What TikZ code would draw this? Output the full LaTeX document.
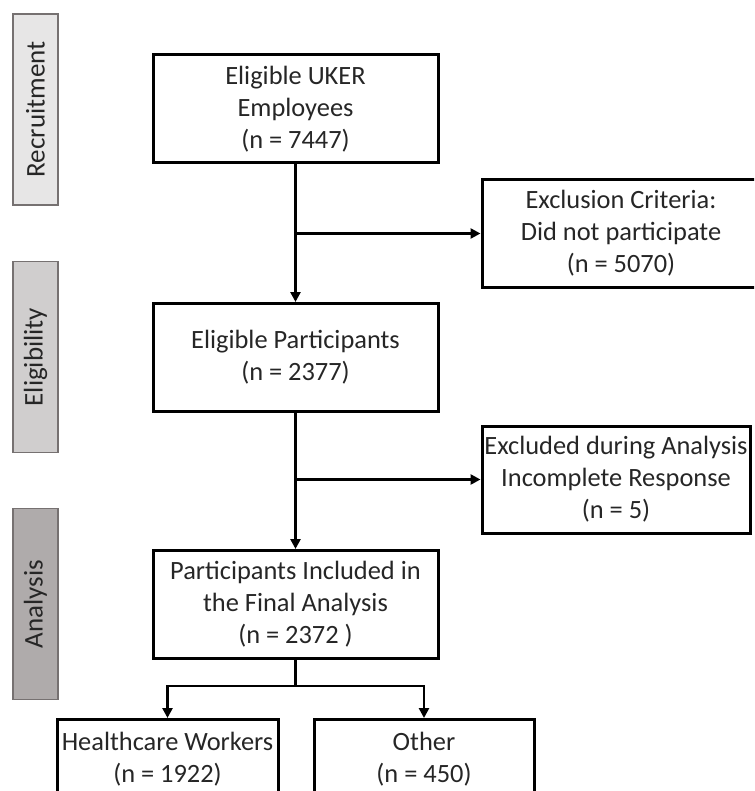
\documentclass[tikz,border=0pt]{standalone}
\usepackage{fontspec}
\setmainfont{Carlito}
\usetikzlibrary{arrows.meta,positioning,calc}
\definecolor{txtgray}{RGB}{38,38,38}
\definecolor{stagea}{RGB}{231,230,230}
\definecolor{stageb}{RGB}{208,206,206}
\definecolor{stagec}{RGB}{175,171,171}
\definecolor{stageline}{RGB}{118,113,113}
\tikzset{
  flowbox/.style={draw=black, line width=1.5pt, align=center, text=txtgray,
                  font=\fontsize{13.2}{16}\selectfont, inner xsep=0pt, inner ysep=2pt,
                  minimum width=142.5pt, minimum height=54pt},
  exclbox/.style={flowbox, minimum height=53.5pt},
  groupbox/.style={flowbox, minimum width=110.5pt, minimum height=40pt},
  stagebox/.style={draw=stageline, line width=0.8pt, rotate=90, text=txtgray,
                   font=\fontsize{13.5}{16}\selectfont,
                   minimum width=95.5pt, minimum height=22.5pt, inner sep=0pt},
  flowarr/.style={-{Triangle[length=5pt,width=5pt]}, black, line width=1.3pt},
  flowline/.style={black, line width=1.3pt},
}

\begin{document}
\begin{tikzpicture}[x=0.5pt, y=-0.5pt]
  \path[use as bounding box, clip] (0,0) rectangle (754,791);

  \node[stagebox, fill=stagea] (recr) at (35.5,109.5) {Recruitment};
  \node[stagebox, fill=stageb] (elig) at (35.5,357) {Eligibility};
  \node[stagebox, fill=stagec] (anal) at (35.5,604) {Analysis};

  \node[flowbox] (employees) at (295.5,109) {Eligible UKER\\Employees\\(n = 7447)};
  \node[exclbox, minimum width=139pt] (notpart) at (621,233.5)
    {Exclusion Criteria:\\Did not participate\\(n = 5070)};
  \node[flowbox] (eligible) at (295.5,357.5) {Eligible Participants\\(n = 2377)};
  \node[exclbox, minimum width=134pt] (incompl) at (616,479.5)
    {Excluded during Analysis\\Incomplete Response\\(n = 5)};
  \node[flowbox] (final) at (295.5,604.5)
    {Participants Included in\\the Final Analysis\\(n = 2372 )};
  \node[groupbox, anchor=north] (hcw) at (167.5,718) {Healthcare Workers\\(n = 1922)};
  \node[groupbox, anchor=north, minimum width=110pt] (other) at (424,718) {Other\\(n = 450)};

  \coordinate (splitA) at (employees.south |- notpart.west);
  \coordinate (splitB) at (eligible.south |- incompl.west);
  \coordinate (splitC) at ($(final.south)+(0,26)$);

  \draw[flowarr] (employees) -- (eligible);
  \draw[flowarr] (splitA) -- (notpart);
  \draw[flowarr] (eligible) -- (final);
  \draw[flowarr] (splitB) -- (incompl);
  \draw[flowline] (final) -- (splitC);
  \draw[flowarr] (splitC) -| (hcw);
  \draw[flowarr] (splitC) -| (other);
\end{tikzpicture}
\end{document}
